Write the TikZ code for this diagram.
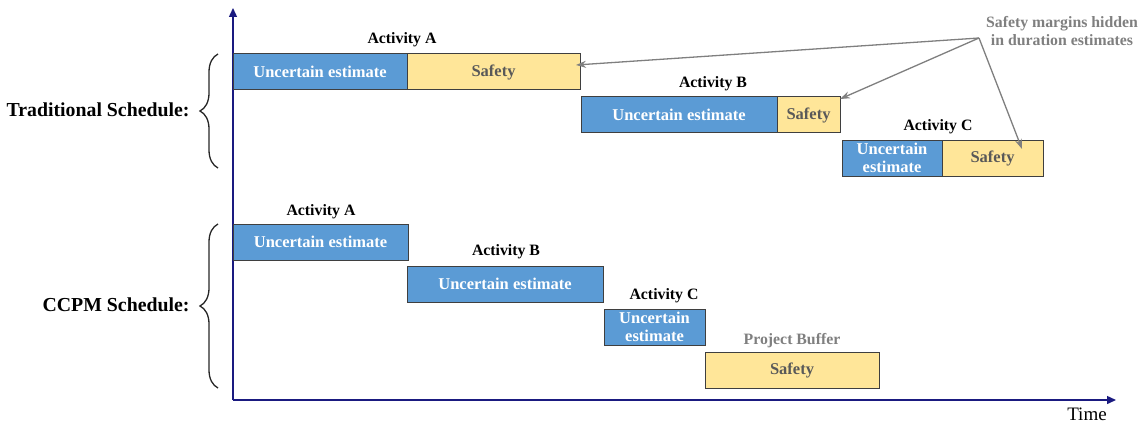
\documentclass[tikz,border=0pt]{standalone}
\usepackage{fontspec}
\setmainfont{Liberation Serif}
\usetikzlibrary{arrows.meta,decorations.pathreplacing}
\definecolor{ublue}{HTML}{5B9BD5}
\definecolor{syellow}{HTML}{FFE699}
\definecolor{edge}{HTML}{3F3F3F}
\definecolor{axisblue}{HTML}{1A1A80}
\definecolor{notegray}{HTML}{7F7F7F}
\definecolor{safetxt}{HTML}{595959}
\tikzset{
  bar/.style={draw=edge,line width=1pt,inner sep=0pt,minimum height=36pt,font=\bfseries\fontsize{16.5}{18}\selectfont,align=center},
  unc/.style={bar,fill=ublue,text=white},
  saf/.style={bar,fill=syellow,text=safetxt},
  actlbl/.style={font=\bfseries\fontsize{15.8}{17}\selectfont,text=black},
  schedlbl/.style={font=\bfseries\fontsize{19.8}{22}\selectfont,anchor=east},
  note/.style={font=\bfseries\fontsize{15.8}{18}\selectfont,text=notegray},
  axisline/.style={draw=axisblue,line width=1.4pt,-{Triangle[length=9pt,width=8pt]}},
  notearrow/.style={draw=notegray,line width=1.3pt,-{Stealth[length=10pt,width=7pt]}},
  bracestyle/.style={draw=black!85,line width=1.3pt,decorate,decoration={brace,amplitude=18pt,aspect=0.5}}
}
\begin{document}
\begin{tikzpicture}[x=1pt,y=-1pt]
\useasboundingbox (0,0) rectangle (1145,425);
% axes
\coordinate (origin) at (233,400);
\coordinate (ytip) at (233,8);
\coordinate (xtip) at (1116,400);
\draw[axisline] (origin) -- (ytip);
\draw[axisline] (origin) -- (xtip);
\node[font=\fontsize{19}{20}\selectfont] (time) at (1087,414) {Time};
% traditional
\node[unc,minimum width=174pt] (tAu) at (320,72) {Uncertain estimate};
\node[saf,minimum width=173pt] (tAs) at (493.5,72) {Safety};
\node[unc,minimum width=196pt] (tBu) at (679,115) {Uncertain estimate};
\node[saf,minimum width=63pt] (tBs) at (808.5,115) {Safety};
\node[unc,minimum width=100pt] (tCu) at (892,158) {Uncertain\\estimate};
\node[saf,minimum width=101pt] (tCs) at (992.5,158) {Safety};
\node[actlbl] (tAl) at (402,40) {Activity A};
\node[actlbl] (tBl) at (713,84) {Activity B};
\node[actlbl] (tCl) at (938,127) {Activity C};
% CCPM
\node[unc,minimum width=175pt] (cAu) at (320.5,242) {Uncertain estimate};
\node[unc,minimum width=196pt] (cBu) at (505,284) {Uncertain estimate};
\node[unc,minimum width=101pt] (cCu) at (654.5,327) {Uncertain\\estimate};
\node[saf,minimum width=174pt] (bs) at (792,370) {Safety};
\node[actlbl] (cAl) at (321,212) {Activity A};
\node[actlbl] (cBl) at (506,252) {Activity B};
\node[actlbl] (cCl) at (664,296) {Activity C};
\node[note] (pb) at (792,341) {Project Buffer};
% note
\node[note,align=center] (noteT) at (1062,31) {Safety margins hidden\\in duration estimates};
\coordinate (src) at (979,38);
\coordinate (tgtA) at (576,65);
\coordinate (tgtB) at (840,99);
\coordinate (tgtC) at (1022,149);
\draw[notearrow] (src) -- (tgtA);
\draw[notearrow] (src) -- (tgtB);
\draw[notearrow] (src) -- (tgtC);
% braces
\draw[bracestyle] (218,168) -- (218,54);
\draw[bracestyle] (218,388) -- (218,224);
\node[schedlbl] (tradlbl) at (193,110) {Traditional Schedule:};
\node[schedlbl] (ccpmlbl) at (193,305) {CCPM Schedule:};
\end{tikzpicture}
\end{document}
